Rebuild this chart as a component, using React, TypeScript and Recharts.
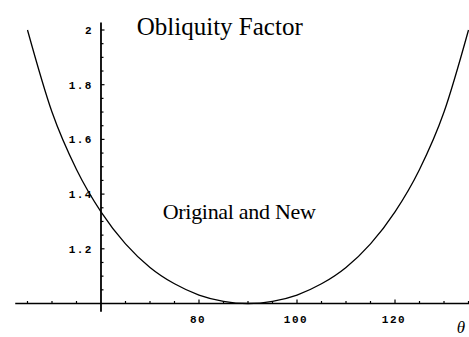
import React from 'react';
import { ComposedChart, Line, XAxis, YAxis, ReferenceLine, ReferenceDot } from 'recharts';

// Obliquity factor versus angle θ (degrees)
const theta = [45, 50, 55, 60, 65, 70, 75, 80, 85, 90, 95, 100, 105, 110, 115, 120, 125, 130, 135];
const factor = [2.0, 1.7, 1.49, 1.335, 1.218, 1.132, 1.072, 1.031, 1.008, 1.0, 1.008, 1.031, 1.072, 1.132, 1.218, 1.335, 1.49, 1.7, 2.0];

// Axis ticks
const xMinorTicks = [45, 50, 55, 65, 70, 75, 85, 90, 95, 105, 110, 115, 125, 130, 135];
const xMajorTicks = [80, 100, 120];
const xTickLabels = ['80', '100', '120'];
const yMinorTicks = [1.05, 1.1, 1.15, 1.25, 1.3, 1.35, 1.45, 1.5, 1.55, 1.65, 1.7, 1.75, 1.85, 1.9, 1.95];
const yMajorTicks = [1.2, 1.4, 1.6, 1.8, 2.0];
const yTickLabels = ['1.2', '1.4', '1.6', '1.8', '2'];

const AXIS_X = 60;
const AXIS_Y = 1;

const data = theta.map((t, i) => ({ theta: t, factor: factor[i] }));

const tickFont = '"Liberation Mono", "DejaVu Sans Mono", monospace';
const serif = '"Liberation Serif", "DejaVu Serif", serif';

export default function App() {
  return (
    <div style={{ position: 'absolute', left: 0, top: 0, background: '#fff' }}>
      <ComposedChart width={469} height={337} data={data} margin={{ top: 0, right: 0, bottom: 0, left: 0 }}>
        <XAxis type="number" dataKey="theta" domain={[39.39, 135.1]} allowDataOverflow hide />
        <YAxis type="number" domain={[0.8775, 2.1097]} allowDataOverflow hide />

        {/* axes */}
        <ReferenceLine
          segment={[{ x: 42.5, y: AXIS_Y }, { x: 135.1, y: AXIS_Y }]}
          stroke="#000"
          strokeWidth={1.3}
          ifOverflow="visible"
        />
        <ReferenceLine
          segment={[{ x: AXIS_X, y: 0.97 }, { x: AXIS_X, y: 2.027 }]}
          stroke="#000"
          strokeWidth={1.8}
          ifOverflow="visible"
        />

        {/* x ticks */}
        {xMinorTicks.map((t) => (
          <ReferenceDot
            key={`xm${t}`}
            x={t}
            y={AXIS_Y}
            r={0}
            ifOverflow="visible"
            shape={(p: any) => <line x1={p.cx} y1={p.cy} x2={p.cx} y2={p.cy - 2.5} stroke="#000" strokeWidth={1.2} />}
          />
        ))}
        {xMajorTicks.map((t, i) => (
          <ReferenceDot
            key={`xM${t}`}
            x={t}
            y={AXIS_Y}
            r={0}
            ifOverflow="visible"
            shape={(p: any) => (
              <g>
                <line x1={p.cx} y1={p.cy} x2={p.cx} y2={p.cy - 4} stroke="#000" strokeWidth={1.2} />
                <text
                  x={p.cx - 1}
                  y={p.cy + 19.5}
                  textAnchor="middle"
                  fontFamily={tickFont}
                  fontSize={11}
                  fontWeight="bold"
                  letterSpacing={1.5}
                  fill="#000"
                >
                  {xTickLabels[i]}
                </text>
              </g>
            )}
          />
        ))}

        {/* y ticks */}
        {yMinorTicks.map((v) => (
          <ReferenceDot
            key={`ym${v}`}
            x={AXIS_X}
            y={v}
            r={0}
            ifOverflow="visible"
            shape={(p: any) => <line x1={p.cx} y1={p.cy} x2={p.cx + 2.5} y2={p.cy} stroke="#000" strokeWidth={1.2} />}
          />
        ))}
        {yMajorTicks.map((v, i) => (
          <ReferenceDot
            key={`yM${v}`}
            x={AXIS_X}
            y={v}
            r={0}
            ifOverflow="visible"
            shape={(p: any) => (
              <g>
                <line x1={p.cx} y1={p.cy} x2={p.cx + 3.5} y2={p.cy} stroke="#000" strokeWidth={1.2} />
                <text
                  x={p.cx - 8}
                  y={p.cy + 4}
                  textAnchor="end"
                  fontFamily={tickFont}
                  fontSize={11}
                  fontWeight="bold"
                  letterSpacing={1.5}
                  fill="#000"
                >
                  {yTickLabels[i]}
                </text>
              </g>
            )}
          />
        ))}

        <Line
          type="monotone"
          dataKey="factor"
          stroke="#000"
          strokeWidth={1.3}
          dot={false}
          activeDot={false}
          isAnimationActive={false}
        />

        {/* annotations */}
        <ReferenceDot
          x={67.3}
          y={2.0}
          r={0}
          ifOverflow="visible"
          shape={(p: any) => (
            <text x={p.cx} y={35} fontFamily={serif} fontSize={25} fill="#000">
              Obliquity Factor
            </text>
          )}
        />
        <ReferenceDot
          x={72.6}
          y={1.31}
          r={0}
          ifOverflow="visible"
          shape={(p: any) => (
            <text x={p.cx} y={219} fontFamily={serif} fontSize={22} letterSpacing={-0.3} fill="#000">
              Original and New
            </text>
          )}
        />
        <ReferenceDot
          x={133.6}
          y={0.92}
          r={0}
          ifOverflow="visible"
          shape={(p: any) => (
            <text x={p.cx - 5} y={333} fontFamily={serif} fontStyle="italic" fontSize={17} fill="#000">
              θ
            </text>
          )}
        />
      </ComposedChart>
    </div>
  );
}
